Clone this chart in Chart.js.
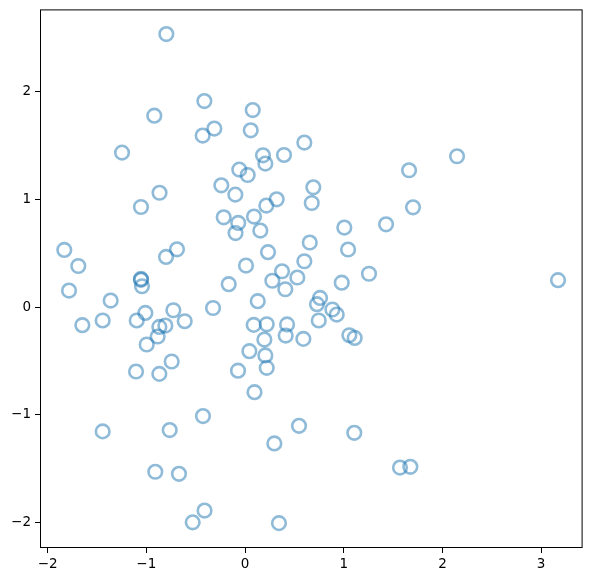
<!DOCTYPE html>
<html>
<head>
<meta charset="utf-8">
<script src="https://cdn.jsdelivr.net/npm/chart.js@4/dist/chart.umd.min.js"></script>
<style>
  html, body { margin: 0; padding: 0; background: #fff; }
  canvas { display: block; }
</style>
</head>
<body>
<canvas id="scatter" width="592" height="582"></canvas>
<script>
// values
const xValues = [
    -0.797, -0.412, -0.919, -1.246, -0.429, -0.311, 0.078, 0.058, 0.601, 0.395,
    0.182, 0.206, -0.058, 0.027, -0.866, -1.054, -0.240, -0.098, 0.321, 0.216,
    0.692, 0.676, -0.216, -0.069, -0.096, 0.091, 0.155, 1.662, 2.148, 1.702,
    1.429, 1.006, 1.044, 0.656, 0.601, 0.233, 0.010, -0.689, -0.800, -1.831,
    -1.689, -1.783, -1.054, -1.054, -1.044, -1.361, -1.648, -1.442, -1.097, -1.010,
    -0.726, -0.611, -0.807, -0.868, -0.885, -0.996, -0.324, -0.165, 0.129, 0.277,
    0.375, 0.408, 0.530, 0.980, 1.256, 0.760, 0.729, 0.747, 0.885, 0.929,
    1.057, 1.111, 0.088, 0.220, 0.426, 0.412, 0.591, 0.196, 0.044, 0.206,
    0.220, -0.071, -1.104, -0.868, -0.743, 3.171, 0.096, -0.426, -1.442, -0.763,
    0.547, 1.107, 0.297, -0.909, -0.669, 1.570, 1.675, -0.530, -0.410, 0.344,
];
const yValues = [
    2.535, 1.913, 1.777, 1.434, 1.592, 1.657, 1.829, 1.641, 1.527, 1.412,
    1.409, 1.332, 1.276, 1.226, 1.061, 0.929, 1.130, 1.044, 1.000, 0.942,
    1.112, 0.966, 0.833, 0.781, 0.687, 0.840, 0.710, 1.270, 1.400, 0.926,
    0.768, 0.738, 0.534, 0.599, 0.425, 0.509, 0.385, 0.536, 0.465, 0.530,
    0.381, 0.153, 0.261, 0.253, 0.193, 0.060, -0.169, -0.125, -0.125, -0.055,
    -0.030, -0.132, -0.172, -0.185, -0.274, -0.348, -0.009, 0.212, 0.054, 0.244,
    0.332, 0.165, 0.274, 0.226, 0.309, 0.084, 0.026, -0.125, -0.023, -0.070,
    -0.262, -0.287, -0.166, -0.160, -0.162, -0.265, -0.296, -0.302, -0.410, -0.450,
    -0.565, -0.591, -0.599, -0.621, -0.506, 0.249, -0.791, -1.013, -1.155, -1.143,
    -1.103, -1.168, -1.267, -1.530, -1.549, -1.491, -1.484, -2.000, -1.890, -2.007,
];
const xTicks = [-2, -1, 0, 1, 2, 3];
const yTicks = [-2, -1, 0, 1, 2];

const xMin = -2.077, xMax = 3.42;
const yMin = -2.238, yMax = 2.764;

const points = xValues.map((x, i) => ({ x: x, y: yValues[i] }));

// matplotlib style minus sign
function fmt(v) {
    return v < 0 ? '\u2212' + Math.abs(v) : String(v);
}

// no extra room for tick label overhang, layout padding decides
function noOverhang(scale) {
    scale.paddingTop = 0;
    scale.paddingBottom = 0;
    scale.paddingLeft = 0;
    scale.paddingRight = 0;
}

// box around the plot area
const frame = {
    id: 'frame',
    afterDraw(chart) {
        const a = chart.chartArea;
        const c = chart.ctx;
        c.save();
        c.strokeStyle = '#000';
        c.lineWidth = 1;
        c.strokeRect(a.left + 0.5, a.top + 0.5, a.right - a.left - 1, a.bottom - a.top - 1);
        c.restore();
    },
};

const tickFont = { family: 'DejaVu Sans', size: 13.5 };

const ctx = document.getElementById('scatter').getContext('2d');
const chart = new Chart(ctx, {
    type: 'scatter',
    data: {
        datasets: [
            {
                data: points,
                pointStyle: 'circle',
                pointRadius: 6.8,
                pointHoverRadius: 6.8,
                borderWidth: 2.6,
                borderColor: 'rgba(31, 119, 180, 0.5)',
                backgroundColor: 'rgba(0, 0, 0, 0)',
            },
        ],
    },
    options: {
        responsive: false,
        animation: false,
        layout: { padding: { top: 9, right: 9, left: 0, bottom: 0 } },
        plugins: {
            legend: { display: false },
            tooltip: { enabled: false },
        },
        scales: {
            x: {
                type: 'linear',
                min: xMin,
                max: xMax,
                afterBuildTicks: (scale) => {
                    scale.ticks = xTicks.map((v) => ({ value: v }));
                },
                afterFit: (scale) => {
                    scale.height = 34;
                    noOverhang(scale);
                },
                grid: {
                    drawOnChartArea: false,
                    drawTicks: true,
                    tickLength: 5,
                    color: '#000',
                },
                border: { display: false },
                ticks: {
                    color: '#000',
                    font: tickFont,
                    padding: 3,
                    maxRotation: 0,
                    callback: (v) => fmt(v),
                },
            },
            y: {
                type: 'linear',
                min: yMin,
                max: yMax,
                afterBuildTicks: (scale) => {
                    scale.ticks = yTicks.map((v) => ({ value: v }));
                },
                afterFit: (scale) => {
                    scale.width = 40;
                    noOverhang(scale);
                },
                grid: {
                    drawOnChartArea: false,
                    drawTicks: true,
                    tickLength: 5,
                    color: '#000',
                },
                border: { display: false },
                ticks: {
                    color: '#000',
                    font: tickFont,
                    padding: 4,
                    callback: (v) => fmt(v),
                },
            },
        },
    },
    plugins: [frame],
});
</script>
</body>
</html>
